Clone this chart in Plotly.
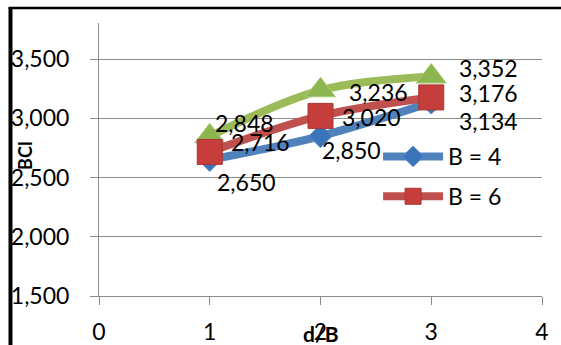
import plotly.graph_objects as go

# d/B ratios and bearing capacity index for each footing width
d_over_b = [1, 2, 3]
bci_b4 = [2650, 2850, 3134]
bci_b6 = [2716, 3020, 3176]
bci_b8 = [2848, 3236, 3352]

x_ticks = [0, 1, 2, 3, 4]
y_ticks = [1500, 2000, 2500, 3000, 3500]

FONT = "Lato"
GRID = "#8c8c8c"

BLUE = "#4F81BD"
RED = "#C0504D"
GREEN = "#9BBB59"

fig = go.Figure()

# B = 8 curve (not listed in the legend)
fig.add_trace(go.Scatter(
    x=d_over_b, y=bci_b8, mode="lines+markers", name="B = 8",
    showlegend=False,
    line=dict(color=GREEN, width=8, shape="spline", smoothing=1),
    marker=dict(symbol="triangle-up", size=26, color="#8DB650",
                line=dict(color="#A9CB72", width=1)),
))
fig.add_trace(go.Scatter(
    x=d_over_b, y=bci_b4, mode="lines+markers", name="B = 4",
    legendgroup="b4",
    line=dict(color=BLUE, width=8, shape="spline", smoothing=1),
    marker=dict(symbol="diamond", size=18, color="#3C74BA",
                line=dict(color="#5A8ACB", width=1)),
))
fig.add_trace(go.Scatter(
    x=d_over_b, y=bci_b6, mode="lines+markers", name="B = 6",
    legendgroup="b6",
    line=dict(color=RED, width=8, shape="spline", smoothing=1),
    marker=dict(symbol="square", size=25, color="#C63E3B",
                line=dict(color="#A83532", width=1)),
))

# value labels next to each point (pixel offsets from the marker)
offsets_b4 = [(37, -22), (31, -14), (57, -19)]
offsets_b6 = [(51, 10), (51, -1), (57, 4)]
offsets_b8 = [(35, 13), (58, -2), (57, 9)]

annotations = []
for ys, offs in ((bci_b4, offsets_b4), (bci_b6, offsets_b6), (bci_b8, offsets_b8)):
    for xv, yv, (dx, dy) in zip(d_over_b, ys, offs):
        annotations.append(dict(
            x=xv, y=yv, xref="x", yref="y", text=f"{yv:,}",
            showarrow=False, xshift=dx, yshift=dy,
            font=dict(family=FONT, size=23, color="black"),
        ))

# axis titles
annotations.append(dict(
    x=-0.167, y=0.513, xref="paper", yref="paper", text="<b>BCI</b>",
    textangle=-90, showarrow=False, xanchor="center", yanchor="middle",
    font=dict(family=FONT, size=18, color="black"),
))
annotations.append(dict(
    x=0.5, y=-0.136, xref="paper", yref="paper", text="<b>d/B</b>",
    showarrow=False, xanchor="center", yanchor="middle",
    font=dict(family=FONT, size=21, color="black"),
))

# outer frame: left and top black rules
shapes = [
    dict(type="line", xref="paper", yref="paper",
         x0=-0.1998, x1=-0.1998, y0=1.058, y1=-0.3,
         line=dict(color="black", width=4)),
    dict(type="line", xref="paper", yref="paper",
         x0=-0.204, x1=1.1, y0=1.055, y1=1.055,
         line=dict(color="black", width=2.5)),
]

fig.update_layout(
    width=561, height=345,
    margin=dict(l=99, r=19, t=23, b=49),
    paper_bgcolor="white", plot_bgcolor="white",
    font=dict(family=FONT, size=23, color="black"),
    annotations=annotations,
    shapes=shapes,
    legend=dict(
        x=0.63, y=0.59, xanchor="left", yanchor="top",
        bgcolor="rgba(0,0,0,0)", itemwidth=60,
        tracegroupgap=7,
        font=dict(family=FONT, size=23, color="black"),
    ),
    xaxis=dict(
        range=[0, 4], tickvals=x_ticks, ticktext=[str(v) for v in x_ticks],
        showgrid=False, zeroline=False, automargin=False,
        showline=True, linecolor=GRID, linewidth=1,
        ticks="outside", ticklen=8, tickcolor=GRID,
        ticklabelstandoff=7,
        tickfont=dict(family=FONT, size=23, color="black"),
    ),
    yaxis=dict(
        range=[1500, 3804], tickvals=y_ticks,
        ticktext=[f"{v:,}" for v in y_ticks],
        showgrid=True, gridcolor=GRID, gridwidth=1,
        zeroline=False, automargin=False,
        showline=True, linecolor=GRID, linewidth=1,
        ticks="outside", ticklen=8, tickcolor=GRID,
        ticklabelstandoff=16,
        tickfont=dict(family=FONT, size=23, color="black"),
    ),
)

fig.write_html("out.html")
